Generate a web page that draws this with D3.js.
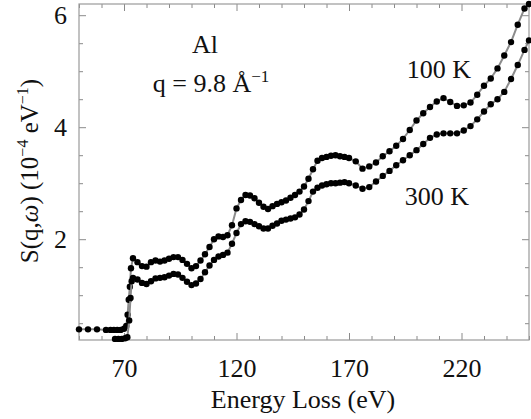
<!DOCTYPE html>
<html>
<head>
<meta charset="utf-8">
<script src="https://cdn.jsdelivr.net/npm/d3@7"></script>
<style>
  body { margin: 0; background: #fff; }
  text { font-family: "Liberation Serif", "DejaVu Serif", serif; fill: #111; }
</style>
</head>
<body>
<div id="chart"></div>
<script>
// data (energy in eV, S in 1e-4 eV^-1)
var energy100 = [50, 54, 58, 62, 64, 65.5, 67, 68.5, 70, 71, 71.6, 72.1, 72.6, 73.1,
  74, 76, 78, 80, 82, 84, 86, 88, 90, 92, 94, 96, 98, 100, 102, 104, 106, 108, 110,
  112, 114, 116, 118, 120, 122, 124, 126, 128, 130, 132, 134, 136, 138, 140, 142, 144,
  146, 148, 150, 152, 154, 156, 158, 160, 162, 164, 166, 168, 170,
  173, 176, 179, 182, 185, 188, 191, 194, 197, 200, 203, 206, 209, 212, 215, 218, 221,
  224, 227, 230, 233, 236, 239, 242, 245, 248, 250];
var s100 = [0.39, 0.39, 0.39, 0.38, 0.38, 0.38, 0.38, 0.38, 0.40, 0.45, 0.65, 0.92, 1.15, 1.48,
  1.66, 1.59, 1.52, 1.51, 1.59, 1.62, 1.60, 1.62, 1.65, 1.68, 1.68, 1.63, 1.56, 1.48, 1.52, 1.62, 1.73, 1.86, 2.00,
  2.05, 2.04, 2.07, 2.25, 2.55, 2.70, 2.79, 2.78, 2.73, 2.65, 2.58, 2.54, 2.59, 2.63, 2.66, 2.69, 2.74,
  2.79, 2.85, 2.94, 3.08, 3.25, 3.40, 3.45, 3.47, 3.49, 3.50, 3.48, 3.47, 3.45,
  3.39, 3.26, 3.30, 3.37, 3.48, 3.57, 3.67, 3.79, 3.95, 4.12, 4.25, 4.36, 4.46, 4.52, 4.45, 4.38, 4.39,
  4.44, 4.58, 4.74, 4.87, 5.05, 5.28, 5.52, 5.83, 6.12, 6.20];

var energy300 = [66, 67.5, 69, 70.5, 71.5, 72.3, 72.9, 73.4,
  74, 76, 78, 80, 82, 84, 86, 88, 90, 92, 94, 96, 98, 100, 102, 104, 106, 108, 110,
  112, 114, 116, 118, 120, 122, 124, 126, 128, 130, 132, 134, 136, 138, 140, 142, 144,
  146, 148, 150, 152, 154, 156, 158, 160, 162, 164, 166, 168, 170,
  173, 176, 179, 182, 185, 188, 191, 194, 197, 200, 203, 206, 209, 212, 215, 218, 221,
  224, 227, 230, 233, 236, 239, 242, 245, 248, 250];
var s300 = [0.22, 0.22, 0.22, 0.23, 0.25, 0.55, 0.95, 1.25,
  1.31, 1.28, 1.22, 1.20, 1.25, 1.30, 1.31, 1.32, 1.35, 1.38, 1.37, 1.31, 1.24, 1.18, 1.21, 1.29, 1.41, 1.53, 1.63,
  1.69, 1.72, 1.76, 1.92, 2.11, 2.27, 2.32, 2.31, 2.27, 2.23, 2.19, 2.19, 2.24, 2.28, 2.33, 2.35, 2.37,
  2.39, 2.44, 2.53, 2.68, 2.85, 2.92, 2.96, 2.98, 3.00, 3.00, 3.01, 3.02, 3.00,
  2.96, 2.90, 2.93, 3.03, 3.13, 3.22, 3.32, 3.41, 3.50, 3.59, 3.70, 3.81, 3.87, 3.89, 3.89, 3.89, 3.94,
  4.02, 4.14, 4.28, 4.41, 4.50, 4.63, 4.86, 5.11, 5.38, 5.55];

var xMajor = [70, 120, 170, 220];
var yMajor = [2, 4, 6];

// chart size
var svgWidth = 531;
var svgHeight = 419;
var margin = { top: 4, right: 2, bottom: 79, left: 79 };
var width = svgWidth - margin.left - margin.right;
var height = svgHeight - margin.top - margin.bottom;

var svg = d3.select("#chart").append("svg")
  .attr("width", svgWidth)
  .attr("height", svgHeight);

var chartGroup = svg.append("g")
  .attr("transform", `translate(${margin.left}, ${margin.top})`);

var xScale = d3.scaleLinear().domain([50, 250]).range([0, width]);
var yScale = d3.scaleLinear().domain([0.2, 6.2]).range([height, 0]);

var xMinor = d3.range(50, 251, 10).filter(v => xMajor.indexOf(v) < 0);
var yMinor = d3.range(0.5, 6.01, 0.5).filter(v => yMajor.indexOf(v) < 0);

// ticks on all four sides, pointing inward
function addAxis(axisFn, scale, values, size, transform, labels) {
  var g = chartGroup.append("g")
    .attr("transform", transform)
    .call(axisFn(scale).tickValues(values).tickSizeInner(-size).tickSizeOuter(0)
      .tickPadding(labels ? 12 : 0)
      .tickFormat(labels ? d3.format("d") : ""));
  g.select(".domain").remove();
  g.selectAll(".tick line").attr("stroke", "#8a8a8a").attr("stroke-width", 1);
  g.selectAll(".tick text")
    .style("font-family", "'Liberation Serif', serif")
    .style("font-size", "26px")
    .attr("fill", "#111");
  return g;
}
var bx = addAxis(d3.axisBottom, xScale, xMajor, 7, `translate(0, ${height})`, true);
bx.selectAll(".tick text").attr("dy", "0.95em");
addAxis(d3.axisBottom, xScale, xMinor, 4, `translate(0, ${height})`, false);
addAxis(d3.axisTop, xScale, xMajor, 7, "translate(0, 0)", false);
addAxis(d3.axisTop, xScale, xMinor, 4, "translate(0, 0)", false);
var ly = addAxis(d3.axisLeft, yScale, yMajor, 7, "translate(0, 0)", true);
ly.selectAll(".tick text").attr("x", -12);
addAxis(d3.axisLeft, yScale, yMinor, 4, "translate(0, 0)", false);
addAxis(d3.axisRight, yScale, yMajor, 7, `translate(${width}, 0)`, false);
addAxis(d3.axisRight, yScale, yMinor, 4, `translate(${width}, 0)`, false);

// frame
chartGroup.append("rect")
  .attr("x", 0).attr("y", 0)
  .attr("width", width).attr("height", height)
  .attr("fill", "none")
  .attr("stroke", "#9a9a9a")
  .attr("stroke-width", 1.2);

// series: grey connecting line + black dots
var line = d3.line()
  .x(d => xScale(d[0]))
  .y(d => yScale(d[1]));

[[energy100, s100], [energy300, s300]].forEach(function(series) {
  var pts = series[0].map((e, i) => [e, series[1][i]]);
  chartGroup.append("path")
    .datum(pts)
    .attr("d", line)
    .attr("fill", "none")
    .attr("stroke", "#8c8c8c")
    .attr("stroke-width", 2);
  chartGroup.append("g").selectAll("circle")
    .data(pts)
    .enter()
    .append("circle")
    .attr("cx", d => xScale(d[0]))
    .attr("cy", d => yScale(d[1]))
    .attr("r", 3.2)
    .attr("fill", "#000");
});

// labels inside the plot
svg.append("text")
  .attr("x", 205).attr("y", 53)
  .attr("text-anchor", "middle")
  .style("font-size", "26px")
  .text("Al");

var qLabel = svg.append("text")
  .attr("x", 211).attr("y", 92)
  .attr("text-anchor", "middle")
  .style("font-size", "26px");
qLabel.append("tspan").text("q = 9.8 Å");
qLabel.append("tspan").attr("dy", -10).style("font-size", "17px").text("−1");

svg.append("text")
  .attr("x", 439).attr("y", 78)
  .attr("text-anchor", "middle")
  .style("font-size", "26px")
  .text("100 K");

svg.append("text")
  .attr("x", 437).attr("y", 205)
  .attr("text-anchor", "middle")
  .style("font-size", "26px")
  .text("300 K");

// axis titles
svg.append("text")
  .attr("x", 303).attr("y", 408)
  .attr("text-anchor", "middle")
  .style("font-size", "26px")
  .text("Energy Loss (eV)");

var yTitle = svg.append("text")
  .attr("transform", "translate(38, 171) rotate(-90)")
  .attr("text-anchor", "middle")
  .style("font-size", "25px");
yTitle.append("tspan").text("S(q,");
yTitle.append("tspan").style("font-style", "italic").text("ω");
yTitle.append("tspan").text(") (10");
yTitle.append("tspan").attr("dy", -10).style("font-size", "16px").text("−4");
yTitle.append("tspan").attr("dy", 10).text(" eV");
yTitle.append("tspan").attr("dy", -10).style("font-size", "16px").text("−1");
yTitle.append("tspan").attr("dy", 10).text(")");
</script>
</body>
</html>
